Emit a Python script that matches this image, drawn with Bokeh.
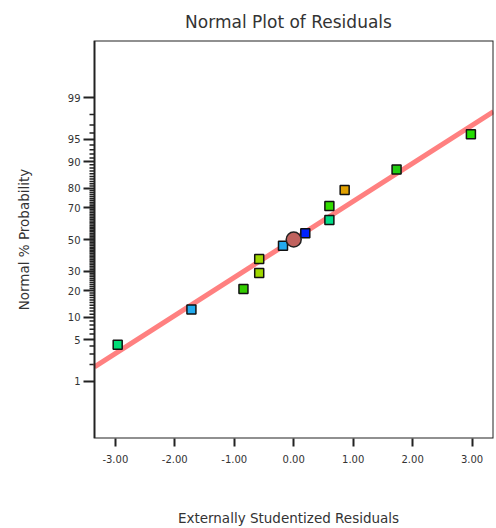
from statistics import NormalDist
from bokeh.plotting import figure
from bokeh.models import Range1d, FixedTicker, ColumnDataSource, BoxAnnotation
from bokeh.embed import file_html
from bokeh.resources import INLINE

# ---- data ----
residuals = [-2.96, -1.72, -0.845, -0.58, -0.58, -0.18, 0.195, 0.60, 0.60, 0.857, 1.73, 2.98]
probability = [4.17, 12.5, 20.83, 29.17, 37.5, 45.83, 54.17, 62.5, 70.83, 79.17, 87.5, 95.83]
point_colors = ["#00DD77", "#22AAEE", "#33CC00", "#A0D800", "#A0D800", "#22AAEE",
                "#0022FF", "#00DD88", "#33DD00", "#E0A000", "#22CC11", "#22DD00"]
center_resid = [0.0]
center_prob = [50.0]
fit_resid = [-3.35, 3.36]
fit_prob = [1.82, 98.22]

x_ticks = [-3, -2, -1, 0, 1, 2, 3]
y_major = [1, 5, 10, 20, 30, 50, 70, 80, 90, 95, 99]
y_minor = ([2, 3, 4, 6, 7, 8, 9] + list(range(11, 20)) + list(range(21, 50))
           + list(range(51, 80)) + list(range(81, 90)) + [91, 92, 93, 94, 96, 97, 98])

# visible plot box (data units)
X_LO, X_HI = -3.35, 3.36
Y_LO, Y_HI = -3.27, 3.27

nd = NormalDist()
def probit(pcts):
    return [nd.inv_cdf(v / 100.0) for v in pcts]

TXT = "#333333"
FONT = "DejaVu Sans"
AX = "#222222"

W, H = 496, 528
BOX_LEFT_PX, RIGHT_PX = 94, 3
MAJ_TICK, MIN_TICK = 11, 5
frame_left = BOX_LEFT_PX - MAJ_TICK
ppu = (W - BOX_LEFT_PX - RIGHT_PX) / (X_HI - X_LO)
x_start = X_LO - MAJ_TICK / ppu

p = figure(width=W, height=H, output_backend="svg", toolbar_location=None,
           x_range=Range1d(x_start, X_HI), y_range=Range1d(Y_LO, Y_HI),
           min_border_left=frame_left, min_border_right=RIGHT_PX,
           min_border_top=40, min_border_bottom=90,
           title="Normal Plot of Residuals")
p.title.align = "center"
p.title.text_font = FONT
p.title.text_font_size = "17px"
p.title.text_font_style = "normal"
p.title.text_color = TXT
p.title.standoff = 17
p.title.offset = MAJ_TICK / 2

p.xgrid.visible = False
p.ygrid.visible = False
p.outline_line_color = None

# visible box
p.add_layout(BoxAnnotation(left=X_LO, right=X_HI, bottom=Y_LO, top=Y_HI,
                           fill_color=None, fill_alpha=0, line_color=AX, line_alpha=1.0,
                           line_width=2, level="overlay"))

xa = p.xaxis[0]
xa.ticker = FixedTicker(ticks=x_ticks)
xa.major_label_overrides = {t: f"{t:.2f}" for t in x_ticks}
xa.axis_label = "Externally Studentized Residuals"
xa.axis_label_text_font = FONT
xa.axis_label_text_font_size = "13.5px"
xa.axis_label_text_font_style = "normal"
xa.axis_label_text_color = TXT
xa.axis_label_standoff = 44
xa.major_label_text_font = FONT
xa.major_label_text_font_size = "10px"
xa.major_label_text_color = TXT
xa.major_label_standoff = 8
xa.major_tick_out = 8
xa.major_tick_in = 0
xa.minor_tick_out = 0
xa.minor_tick_in = 0
xa.major_tick_line_width = 2
xa.major_tick_line_color = AX
xa.axis_line_color = None

ya = p.yaxis[0]
ya_major_pos = probit(y_major)
ya.ticker = FixedTicker(ticks=ya_major_pos)
ya.major_label_overrides = {pos: str(v) for pos, v in zip(ya_major_pos, y_major)}
ya.axis_label = "Normal % Probability"
ya.axis_label_text_font = FONT
ya.axis_label_text_font_size = "13.5px"
ya.axis_label_text_font_style = "normal"
ya.axis_label_text_color = TXT
ya.axis_label_standoff = 33
ya.major_label_text_font = FONT
ya.major_label_text_font_size = "10px"
ya.major_label_text_color = TXT
ya.major_label_standoff = 3
ya.major_label_orientation = "horizontal"
ya.major_tick_out = 0
ya.major_tick_in = MAJ_TICK
ya.minor_tick_out = 0
ya.minor_tick_in = 0
ya.major_tick_line_width = 2
ya.major_tick_line_color = AX
ya.axis_line_color = None

# minor probability ticks (short marks left of the box)
minor_pos = probit(y_minor)
p.segment(x0=[X_LO - MIN_TICK / ppu] * len(minor_pos), x1=[X_LO] * len(minor_pos),
          y0=minor_pos, y1=minor_pos, line_color=AX, line_width=1.5)

# fitted line
p.line(fit_resid, probit(fit_prob), line_color="#FF8080", line_width=5)

# residual points
src = ColumnDataSource(dict(x=residuals, y=probit(probability), c=point_colors))
p.scatter("x", "y", source=src, marker="square", size=9, fill_color="c",
          line_color="#111111", line_width=1.5)

# center circle
p.scatter(center_resid, probit(center_prob), marker="circle", size=15,
          fill_color="#C0625E", line_color=AX, line_width=1.5)

open("out.html", "w").write(file_html(p, INLINE))
